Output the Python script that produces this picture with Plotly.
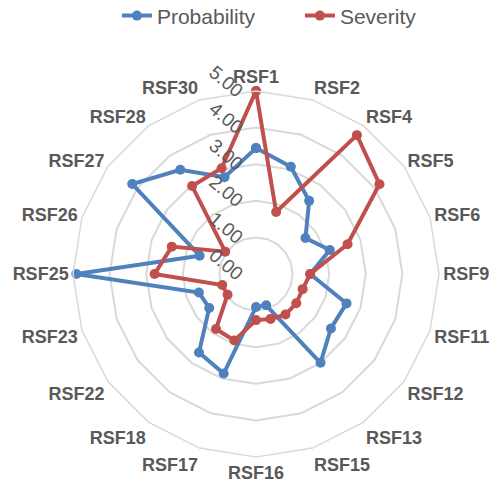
import plotly.graph_objects as go

categories = ["RSF1", "RSF2", "RSF4", "RSF5", "RSF6", "RSF9", "RSF11", "RSF12", "RSF13", "RSF15",
              "RSF16", "RSF17", "RSF18", "RSF22", "RSF23", "RSF25", "RSF26", "RSF27", "RSF28", "RSF30"]
probability = [3.44, 3.08, 2.47, 1.67, 2.12, 1.48, 2.60, 2.53, 3.00, 0.90,
               0.90, 2.86, 2.65, 1.58, 1.64, 4.91, 1.62, 4.18, 3.52, 2.78]
severity = [5.00, 1.78, 4.69, 4.17, 2.63, 1.48, 1.34, 1.36, 1.37, 1.29,
            1.26, 1.91, 1.86, 0.96, 0.97, 2.77, 2.42, 1.04, 2.97, 3.04]
radial_ticks = [0, 1, 2, 3, 4, 5]

BLUE = "#4F81BD"
RED = "#C0504D"
GREY = "#595959"
FONT = "Liberation Sans, Arial, sans-serif"

def closed(v):
    return list(v) + [v[0]]

fig = go.Figure()
fig.add_trace(go.Scatterpolar(
    r=closed(probability), theta=closed(categories), name="Probability",
    mode="lines+markers", line=dict(color=BLUE, width=4),
    marker=dict(color=BLUE, size=10)))
fig.add_trace(go.Scatterpolar(
    r=closed(severity), theta=closed(categories), name="Severity",
    mode="lines+markers", line=dict(color=RED, width=4),
    marker=dict(color=RED, size=10)))

fig.update_layout(
    width=491, height=488,
    margin=dict(l=73, r=52, t=91, b=31, autoexpand=False),
    paper_bgcolor="white", plot_bgcolor="white",
    font=dict(family=FONT, color=GREY),
    showlegend=True,
    legend=dict(orientation="h", x=0.12, xanchor="left", y=1.205, yanchor="middle",
                entrywidth=138, entrywidthmode="pixels",
                font=dict(size=21, color=GREY), bgcolor="rgba(0,0,0,0)"),
    polar=dict(
        bgcolor="white",
        gridshape="linear",
        domain=dict(x=[0, 1], y=[0, 1]),
        radialaxis=dict(range=[0, 5], tickvals=radial_ticks, tickformat=".2f",
                        angle=90, tickangle=130, side="counterclockwise",
                        showline=False, ticks="",
                        gridcolor="#D9D9D9", gridwidth=1.5,
                        tickfont=dict(size=19, color=GREY)),
        angularaxis=dict(rotation=90, direction="clockwise", showgrid=False,
                         showline=True, linecolor="#D9D9D9", linewidth=1.5, ticks="",
                         tickfont=dict(size=18, color=GREY, family=FONT, weight="bold")),
    ),
)

fig.write_html("out.html")
